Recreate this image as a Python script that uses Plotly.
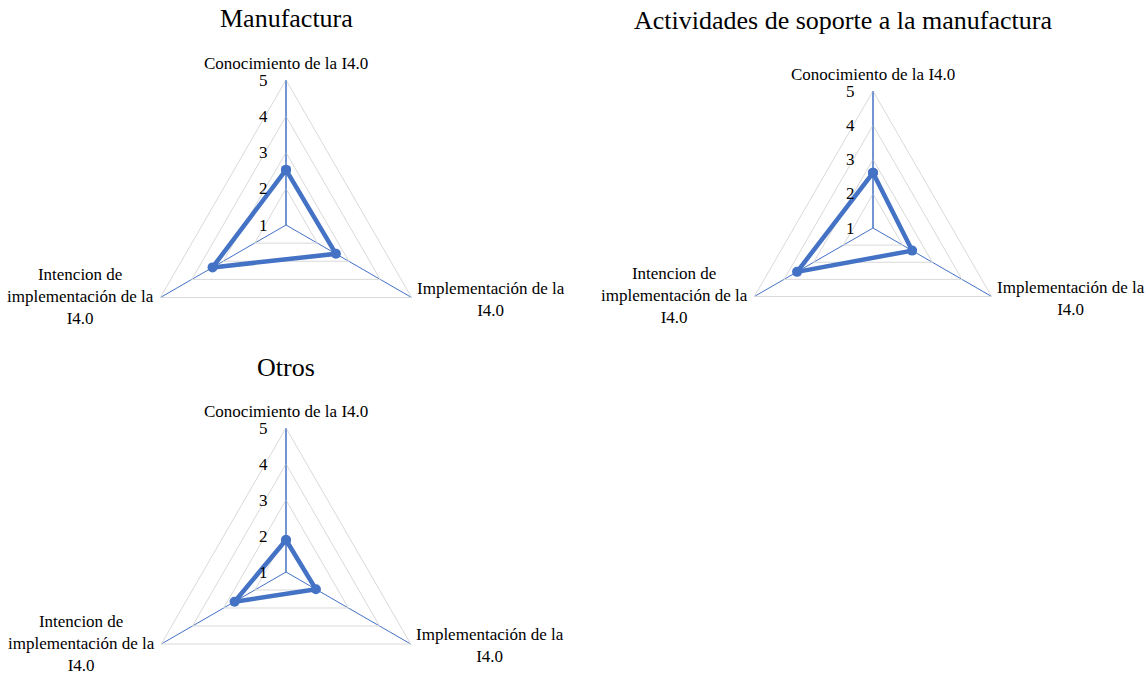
import math
import plotly.graph_objects as go

categories = ["Conocimiento de la I4.0",
              "Implementación de la I4.0",
              "Intencion de implementación de la I4.0"]
category_labels = ["Conocimiento de la I4.0",
                   "Implementación de la<br>I4.0",
                   "Intencion de<br>implementación de la<br>I4.0"]
manufactura = [2.52, 2.59, 3.34]
soporte = [2.61, 2.32, 3.56]
otros = [1.89, 1.96, 2.65]
radial_ticks = [1, 2, 3, 4, 5]
titles = ["Manufactura", "Actividades de soporte a la manufactura", "Otros"]

W, H = 1148, 720
BLUE = "#4472C4"
GRAY = "#D9D9D9"
FONT = "Liberation Serif"

# subplot placement in screen px: center x, center y, outer radius
places = [(286, 225, 145), (873, 228, 137), (286, 572, 144)]
title_pos = [(286, 18), (843, 20), (286, 367)]
series = [manufactura, soporte, otros]


def px(x):
    return x / W


def py(y):
    return 1 - y / H


fig = go.Figure()
layout = dict(width=W, height=H, margin=dict(l=0, r=0, t=0, b=0),
              paper_bgcolor="white", plot_bgcolor="white", showlegend=False)
annotations = []
for i, ((cx, cy, R), vals) in enumerate(zip(places, series)):
    key = "polar" if i == 0 else f"polar{i+1}"
    dom = dict(x=[px(cx - R), px(cx + R)], y=[py(cy + R), py(cy - R)])
    layout[key] = dict(
        domain=dom, gridshape="linear", bgcolor="white",
        angularaxis=dict(rotation=90, direction="clockwise", showgrid=True,
                         gridcolor=BLUE, gridwidth=1, showline=True, linecolor=GRAY,
                         linewidth=1, ticks="", showticklabels=False,
                         categoryorder="array", categoryarray=categories),
        radialaxis=dict(range=[1, 5], tickvals=radial_ticks, showline=True, linecolor=BLUE,
                        linewidth=1, gridcolor=GRAY, gridwidth=1, angle=90, tickangle=90,
                        side="counterclockwise", ticks="outside", ticklen=12,
                        tickcolor="rgba(0,0,0,0)",
                        tickfont=dict(family=FONT, size=17, color="black")),
    )
    fig.add_trace(go.Scatterpolar(
        r=vals + [vals[0]], theta=categories + [categories[0]], mode="lines+markers",
        line=dict(color=BLUE, width=4.5), marker=dict(color=BLUE, size=10),
        subplot=key, hoverinfo="skip"))
    tx, ty = title_pos[i]
    annotations.append(dict(text=titles[i], x=px(tx), y=py(ty), xref="paper", yref="paper",
                            xanchor="center", yanchor="middle", showarrow=False,
                            font=dict(family=FONT, size=26, color="black")))
    # category labels at the polygon vertices
    c30 = R * math.cos(math.radians(30))
    label_specs = [
        (cx, cy - R - 16.5, "center", "middle"),
        (cx + c30 + 3, cy + R / 2 + 1.5, "left", "middle"),
        (cx - c30 - 4, cy + R / 2 - 1, "right", "middle"),
    ]
    for lab, (lx, ly, xa, ya) in zip(category_labels, label_specs):
        annotations.append(dict(text=lab, x=px(lx), y=py(ly), xref="paper", yref="paper",
                                xanchor=xa, yanchor=ya, align="center", showarrow=False,
                                font=dict(family=FONT, size=17, color="black")))
layout["annotations"] = annotations
fig.update_layout(**layout)
fig.write_html("out.html", config={"displayModeBar": False},
               post_script="document.body.style.margin='0';document.body.style.overflow='hidden';")
